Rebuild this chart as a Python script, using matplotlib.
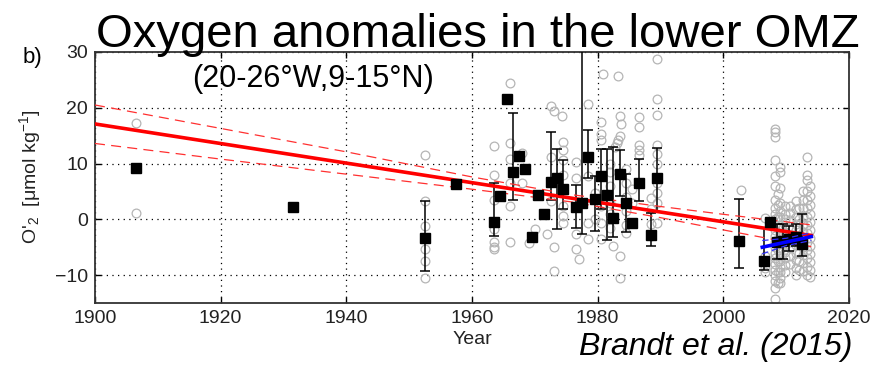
import numpy as np
import matplotlib
matplotlib.use("Agg")
import matplotlib.pyplot as plt

plt.rcParams['font.family'] = ['Liberation Sans', 'DejaVu Sans']
plt.rcParams['mathtext.fontset'] = 'custom'
plt.rcParams['mathtext.rm'] = 'Liberation Sans'
plt.rcParams['mathtext.it'] = 'Liberation Sans:italic'

nan = np.nan

# yearly means (black squares) with error bar ends
mean_yr = [1906.5, 1931.5, 1952.5, 1957.5, 1963.5, 1964.5, 1965.5, 1966.5, 1967.5,
           1968.5, 1969.5, 1970.5, 1971.5, 1972.5, 1973.5, 1974.5, 1976.5, 1977.5,
           1978.5, 1979.5, 1980.5, 1981.5, 1982.5, 1983.5, 1984.5, 1985.5, 1986.5,
           1988.5, 1989.5, 2002.5, 2006.5, 2007.5, 2008.5, 2009.5, 2010.5, 2011.5, 2012.5]
mean_o2 = [9.2, 2.3, -3.4, 6.4, -0.4, 4.2, 21.6, 8.5, 11.3,
           9.1, -3.1, 4.4, 0.9, 6.7, 7.5, 5.5, 2.2, 2.9,
           11.1, 3.7, 7.8, 4.4, 0.3, 8.1, 2.9, -0.6, 6.6,
           -2.8, 7.4, -3.8, -7.4, -0.5, -4.1, -3.8, -3.5, -3.2, -4.5]
err_hi = [nan, nan, 3.2, nan, 6.5, nan, nan, 19.0, nan,
          nan, nan, nan, nan, 15.6, 12.6, 10.6, 6.1, 45.0,
          16.1, 7.7, 12.6, 12.6, 13.0, 12.4, 8.1, nan, 10.9,
          1.2, 12.8, 3.7, -1.5, nan, -0.8, -0.9, -1.2, -0.9, 0.9]
err_lo = [nan, nan, -9.2, nan, -2.9, nan, nan, 3.4, nan,
          nan, nan, nan, nan, 3.5, -1.8, 1.9, -1.5, -2.7,
          7.4, -2.1, 1.9, -3.7, -3.2, 4.1, -2.2, nan, 3.2,
          -4.7, 1.3, -8.7, -9.0, nan, -7.2, -7.2, -5.6, -4.7, -6.5]

# individual profiles (grey circles), early period
obs_yr_a = [1906.5, 1906.5, 1952.5, 1952.5, 1952.5, 1952.5, 1952.5, 1952.5,
            1963.5, 1963.5, 1963.5, 1963.5, 1963.5, 1963.5, 1963.5,
            1966.0, 1966.0, 1966.0, 1966.0, 1966.0, 1966.0, 1968.0, 1968.0,
            1969.0, 1970.0, 1972.0]
obs_o2_a = [17.2, 1.2, 11.5, 3.2, -1.2, -5.3, -7.4, -10.6,
            13.1, 8.0, 3.5, -1.8, -4.1, -5.0, -5.3,
            24.5, 13.6, 10.9, 6.5, 2.4, -4.1, 11.9, 6.5,
            -4.3, -1.8, -2.7]

# 1972-1990
obs_yr_b = [1972.5, 1973.0, 1974.3, 1974.5, 1974.5, 1974.5, 1974.5, 1974.5, 1974.5, 1974.5,
            1972.5, 1972.5, 1973.0, 1973.0, 1976.5, 1976.5, 1976.5, 1976.5, 1977.0,
            1978.5, 1978.5, 1978.5, 1978.5, 1979.5, 1979.5,
            1980.5, 1980.5, 1980.5, 1980.5, 1980.5, 1980.5, 1980.8,
            1982.0, 1982.0, 1982.0, 1982.0, 1982.0, 1982.0, 1982.5, 1983.2,
            1983.5, 1983.7, 1983.5, 1983.3, 1983.0, 1982.8, 1983.5, 1983.5,
            1984.5, 1984.5, 1984.5, 1984.5, 1984.5, 1984.5, 1985.5, 1985.5,
            1986.5, 1986.5, 1986.5, 1986.5, 1986.5,
            1988.5, 1988.5, 1988.5, 1988.5,
            1989.5, 1989.5, 1989.5, 1989.5, 1989.5, 1989.5, 1989.5, 1989.5, 1989.5, 1989.5]
obs_o2_b = [20.4, 19.5, 18.6, 13.9, 12.4, 10.6, 8.0, 2.4, 0.6, -0.6,
            11.2, 3.2, -5.0, -9.3, 10.3, 7.4, -2.7, -5.3, -7.1,
            20.6, 7.7, -0.6, -3.5, 4.7, 0.0,
            17.4, 15.3, 14.2, 2.4, -0.6, -3.5, 26.1,
            10.0, 8.5, 6.0, 3.0, 1.0, -1.5, -4.7, 25.7,
            18.6, 17.1, 15.0, 14.2, 13.6, 13.0, -6.5, -10.6,
            -2.4, 9.0, 6.5, 4.0, 1.5, -1.0, 5.5, 3.0,
            18.3, 16.6, 13.3, 12.4, 11.5,
            3.8, 1.8, -0.9, -2.9,
            28.8, 21.5, 18.7, 13.3, 11.8, 10.0, 6.5, 4.7, 2.9, -0.6]

# 2000s cluster
obs_yr_c = ([2002.8, 2006.6, 2006.6, 2006.6, 2006.6]
            + [2008.3] * 23 + [2009.0] * 17 + [2009.8] * 11 + [2010.6] * 9
            + [2011.5] * 11 + [2012.6] * 11 + [2013.3] * 14 + [2013.8] * 12
            + [2008.7] * 9 + [2012.0] * 8)
obs_o2_c = ([5.2, 0.3, -8.8, -9.4, -6.5]
            + [10.6, 16.2, 15.6, 14.7, 7.7, 5.9, 3.5, 2.0, 1.0, 0.0, -1.0, -2.0,
               -3.0, -4.0, -5.0, -6.0, -7.0, -8.0, -9.0, -10.0, -11.0, -12.3, -14.3]
            + [9.4, 8.5, 5.6, 3.0, 1.5, 0.5, -1.5, -2.5, -3.5, -4.5, -5.5, -6.5,
               -7.5, -8.5, -9.5, -10.5, -11.5]
            + [2.4, 1.0, 0.0, -1.0, -2.2, -3.2, -4.6, -5.8, -7.0, -8.2, -9.5]
            + [2.4, 1.2, -0.2, -1.6, -2.8, -4.0, -5.2, -6.5, -8.0]
            + [3.2, 1.8, 0.5, -0.8, -2.0, -3.3, -4.6, -6.0, -7.3, -8.8, -10.0]
            + [5.0, 3.5, 2.0, 0.6, -0.8, -2.2, -3.6, -5.0, -6.4, -7.8, -9.2]
            + [11.2, 8.0, 7.1, 5.0, 3.5, 2.0, 0.5, -1.0, -2.5, -4.0, -5.5, -7.0, -8.5, -10.0]
            + [6.0, 4.2, 2.6, 1.0, -0.5, -2.0, -3.4, -4.8, -6.2, -7.6, -9.0, -10.4]
            + [4.5, 2.5, 0.5, -1.5, -3.5, -5.5, -7.5, -9.5, -11.5]
            + [2.0, 0.0, -1.5, -3.0, -4.5, -6.0, -7.5, -9.0])

# long-term trend and confidence band
trend_yr = [1900, 2014]
trend_o2 = [17.1, -2.9]
band_yr = [1900, 1920, 1940, 1960, 1976, 1990, 2000, 2014]
band_hi = [20.5, 16.3, 12.1, 7.6, 4.4, 2.3, 0.9, -1.0]
band_lo = [13.6, 10.8, 8.1, 5.4, 3.1, 0.3, -1.9, -4.9]

# recent trend
recent_yr = [2006.2, 2014.0]
recent_o2 = [-5.0, -3.1]
rband_yr = [2006.2, 2010.0, 2014.0]
rband_hi = [-3.8, -3.4, -2.4]
rband_lo = [-6.2, -4.7, -3.8]

fig = plt.figure(figsize=(8.76, 3.68), dpi=100)
ax = fig.add_axes([95 / 876, 1 - 303 / 368, 754 / 876, 251 / 368])

grey = '#b5b5b5'
ax.plot(obs_yr_a + obs_yr_b + obs_yr_c, obs_o2_a + obs_o2_b + obs_o2_c, 'o',
        mfc='none', mec=grey, mew=0.9, ms=6.3, zorder=2)

ax.plot(trend_yr, trend_o2, color='red', lw=2.6, zorder=4)
ax.plot(band_yr, band_hi, color='#ff3030', lw=0.9, dashes=(8, 5), zorder=4)
ax.plot(band_yr, band_lo, color='#ff3030', lw=0.9, dashes=(8, 5), zorder=4)

ax.errorbar(mean_yr, mean_o2,
            yerr=[np.array(mean_o2) - np.array(err_lo), np.array(err_hi) - np.array(mean_o2)],
            fmt='none', ecolor='black', elinewidth=1.1, capsize=3.5, capthick=1.1, zorder=3)
ax.plot(mean_yr, mean_o2, 's', color='black', ms=7, zorder=5)

ax.plot(recent_yr, recent_o2, color='blue', lw=2.6, zorder=6)
ax.plot(rband_yr, rband_hi, color='#3030ff', lw=0.9, dashes=(5, 3), zorder=6)
ax.plot(rband_yr, rband_lo, color='#3030ff', lw=0.9, dashes=(5, 3), zorder=6)

ax.set_xlim(1900, 2020)
ax.set_ylim(-15, 30)
ax.set_xticks(range(1900, 2021, 20))
ax.set_yticks([-10, 0, 10, 20, 30])
ax.set_yticklabels(['\u221210', '0', '10', '20', '30'])
ax.grid(True, color='black', linewidth=0.9, dashes=(1, 3.5))
ax.tick_params(direction='in', top=True, right=True, length=4, width=1,
               labelsize=14, pad=5, labelcolor='#222222')
for s in ax.spines.values():
    s.set_linewidth(1.3)
    s.set_color('#333333')

fig.text(478 / 876, 1 - 47 / 368, 'Oxygen anomalies in the lower OMZ',
         ha='center', va='baseline', fontsize=34)
fig.text(313 / 876, 1 - 79 / 368, '(20-26\u00b0W,9-15\u00b0N)',
         ha='center', va='center', fontsize=22)
fig.text(32 / 876, 1 - 57 / 368, 'b)', ha='center', va='center', fontsize=16)
fig.text(30 / 876, 0.52, "O$'_2$  [\u03bcmol kg$^{-1}$]", rotation=90,
         ha='center', va='center', fontsize=14, color='#222222')
fig.text(472 / 876, 1 - 340 / 368, 'Year', ha='center', va='center',
         fontsize=14, color='#222222')
fig.text(852 / 876, 1 - 347 / 368, 'Brandt et al. (2015)', ha='right', va='center',
         fontsize=23, style='italic')

fig.savefig('out.png', dpi=100)
